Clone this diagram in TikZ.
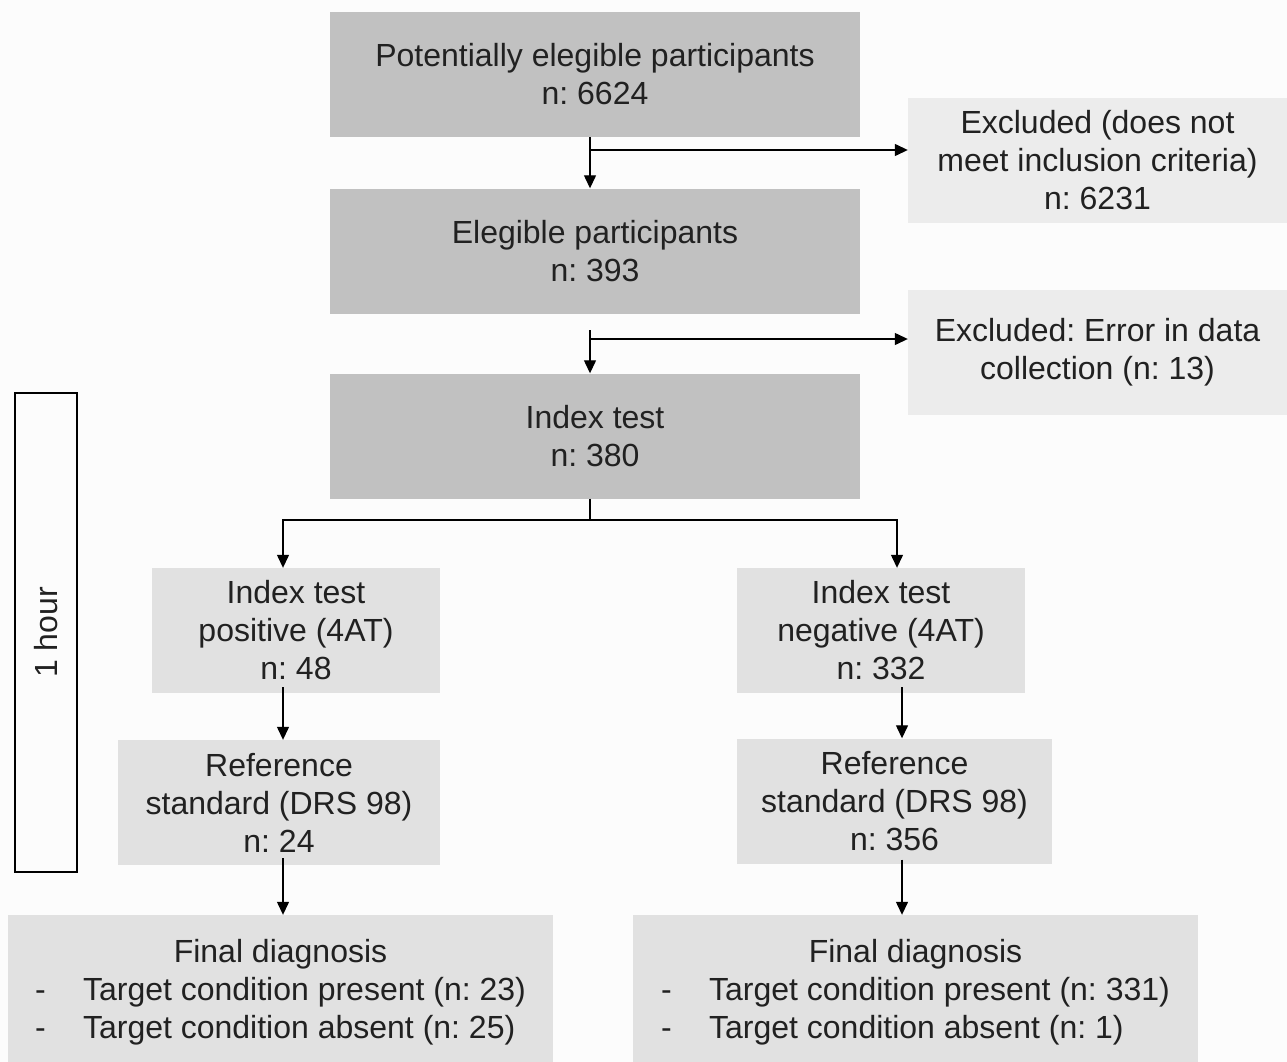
\documentclass[tikz,border=0pt]{standalone}
\usepackage{fontspec}
\setmainfont{Liberation Sans}
\usetikzlibrary{arrows.meta,calc}
\definecolor{darkbox}{HTML}{C1C1C1}
\definecolor{lightbox}{HTML}{E1E1E1}
\definecolor{exbox}{HTML}{ECECEC}
\definecolor{bg}{HTML}{FCFCFC}
\frenchspacing
\begin{document}
\begin{tikzpicture}[x=1pt,y=-1pt,
  every node/.style={font=\fontsize{32}{38}\selectfont\frenchspacing, text=black!87, inner sep=0pt, align=center},
  mainbox/.style={fill=darkbox, minimum width=530pt, minimum height=125pt},
  subbox/.style={fill=lightbox, minimum height=125pt},
  exclbox/.style={fill=exbox, minimum width=379pt, minimum height=125pt},
  conn/.style={draw=black, line width=1.3pt},
  arr/.style={conn, -{Triangle[length=13pt,width=12pt]}},
  hourbox/.style={draw=black, line width=2pt, minimum width=62pt, minimum height=479pt}
]
\useasboundingbox[fill=bg] (0,0) rectangle (1287,1062);

% main column
\node[mainbox] (b1) at (595,74.5) {Potentially elegible participants\\n: 6624};
\node[mainbox] (b2) at (595,251) {Elegible participants\\n: 393};
\node[mainbox] (b3) at (595,436) {Index test\\n: 380};

% exclusions
\node[exclbox] (ex1) at (1097.5,160.5) {Excluded (does not\\meet inclusion criteria)\\n: 6231};
\node[exclbox] (ex2) at (1097.5,352) {Excluded: Error in data\\collection (n: 13)};

% branches
\node[subbox, minimum width=288pt] (pos) at (296,630.5) {Index test\\positive (4AT)\\n: 48};
\node[subbox, minimum width=288pt] (neg) at (881,630.5) {Index test\\negative (4AT)\\n: 332};
\node[subbox, minimum width=322pt] (refp) at (279,802.5) {Reference\\standard (DRS 98)\\n: 24};
\node[subbox, minimum width=315pt] (refn) at (894.5,801) {Reference\\standard (DRS 98)\\n: 356};

\node[subbox, minimum width=545pt, minimum height=159pt] (finp) at (280.5,994.5)
  {Final diagnosis\\[4pt]\begin{tabular}{@{}l@{}l@{}}\makebox[48pt][l]{-}&Target condition present (n: 23)\\\makebox[48pt][l]{-}&Target condition absent (n: 25)\end{tabular}};
\node[subbox, minimum width=565pt, minimum height=159pt] (finn) at (915.5,994.5)
  {Final diagnosis\\[4pt]\begin{tabular}{@{}l@{}l@{}}\makebox[48pt][l]{-}&Target condition present (n: 331)\\\makebox[48pt][l]{-}&Target condition absent (n: 1)\end{tabular}};

% 1 hour box
\node[hourbox] (hour) at (46,632.5) {};
\node[rotate=90] (hourtxt) at (hour.center) {1 hour};

% connectors
\coordinate (s1) at (590,150);
\draw[arr] ([xshift=-5pt]b1.south) -- ([xshift=-5pt]b2.north);
\draw[arr] (s1) -- (s1 -| ex1.west);

\coordinate (t2) at (590,330);
\coordinate (s2) at (590,339);
\draw[arr] (t2) -- ([xshift=-5pt]b3.north);
\draw[arr] (s2) -- (s2 -| ex2.west);

\coordinate (sp) at (590,520);
\draw[conn] ([xshift=-5pt]b3.south) -- (sp);
\draw[arr] (sp) -| ([xshift=-13pt]pos.north);
\draw[arr] (sp) -| ([xshift=16pt]neg.north);

\draw[arr] ([xshift=-13pt,yshift=6pt]pos.south) -- ([xshift=4pt]refp.north);
\draw[arr] ([xshift=21pt,yshift=6pt]neg.south) -- ([xshift=7.5pt]refn.north);
\draw[arr] ([xshift=4pt,yshift=7pt]refp.south) -- ([xshift=2.5pt]finp.north);
\draw[arr] ([xshift=7.5pt,yshift=4pt]refn.south) -- ([xshift=-13.5pt]finn.north);
\end{tikzpicture}
\end{document}
